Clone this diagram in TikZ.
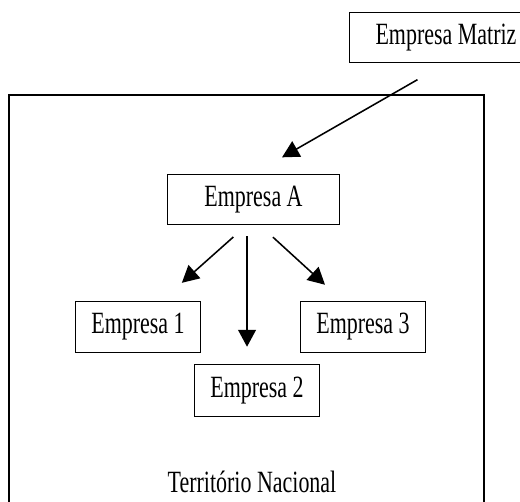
\documentclass[tikz,border=0pt]{standalone}
\usepackage{fontspec}
\setmainfont{Liberation Serif}[FakeStretch=0.71]
\usetikzlibrary{arrows.meta}

\begin{document}
\begin{tikzpicture} [x=0.025cm, y=-0.025cm,
    empresa/.style={draw, line width=.7pt, minimum width=89.3pt, minimum height=36.9pt,
                    inner sep=0pt, font=\fontsize{22}{26}\selectfont},
    seta/.style={line width=1.1pt, -{Triangle[length=12pt, width=12.5pt]}}]
    \clip (0,0) rectangle (520,501);

    % territorio
    \draw[line width=1.4pt] (9,95) rectangle (484,540);
    \node[font=\fontsize{22}{26}\selectfont] (terr) at (252,482) {Território Nacional};

    \node[empresa, minimum width=137.5pt, minimum height=36pt] (matriz) at (446,37.5) {Empresa Matriz};
    \node[empresa, minimum width=122.6pt, minimum height=36pt] (a) at (253.5,199.5) {Empresa A};
    \node[empresa] (e1) at (138,327) {Empresa 1};
    \node[empresa] (e3) at (363,327) {Empresa 3};
    \node[empresa, minimum height=37.5pt] (e2) at (257,390.5) {Empresa 2};

    %% setas
    \draw[seta, shorten <=23.4pt, shorten >=23.4pt] (matriz.south) -- (a.north);
    \draw[seta, shorten <=12.5pt, shorten >=19pt] ([xshift=-5pt]a.south) -- ([xshift=17pt]e1.north);
    \draw[seta, shorten <=12.5pt, shorten >=16.7pt] ([xshift=4.6pt]a.south) -- ([xshift=-14.7pt]e3.north);
    \draw[seta, line width=1.5pt, shorten <=7.8pt, shorten >=12pt] ([xshift=-4.6pt]a.south) -- ([xshift=-4.6pt]a.south |- e2.north);
\end{tikzpicture}
\end{document}
